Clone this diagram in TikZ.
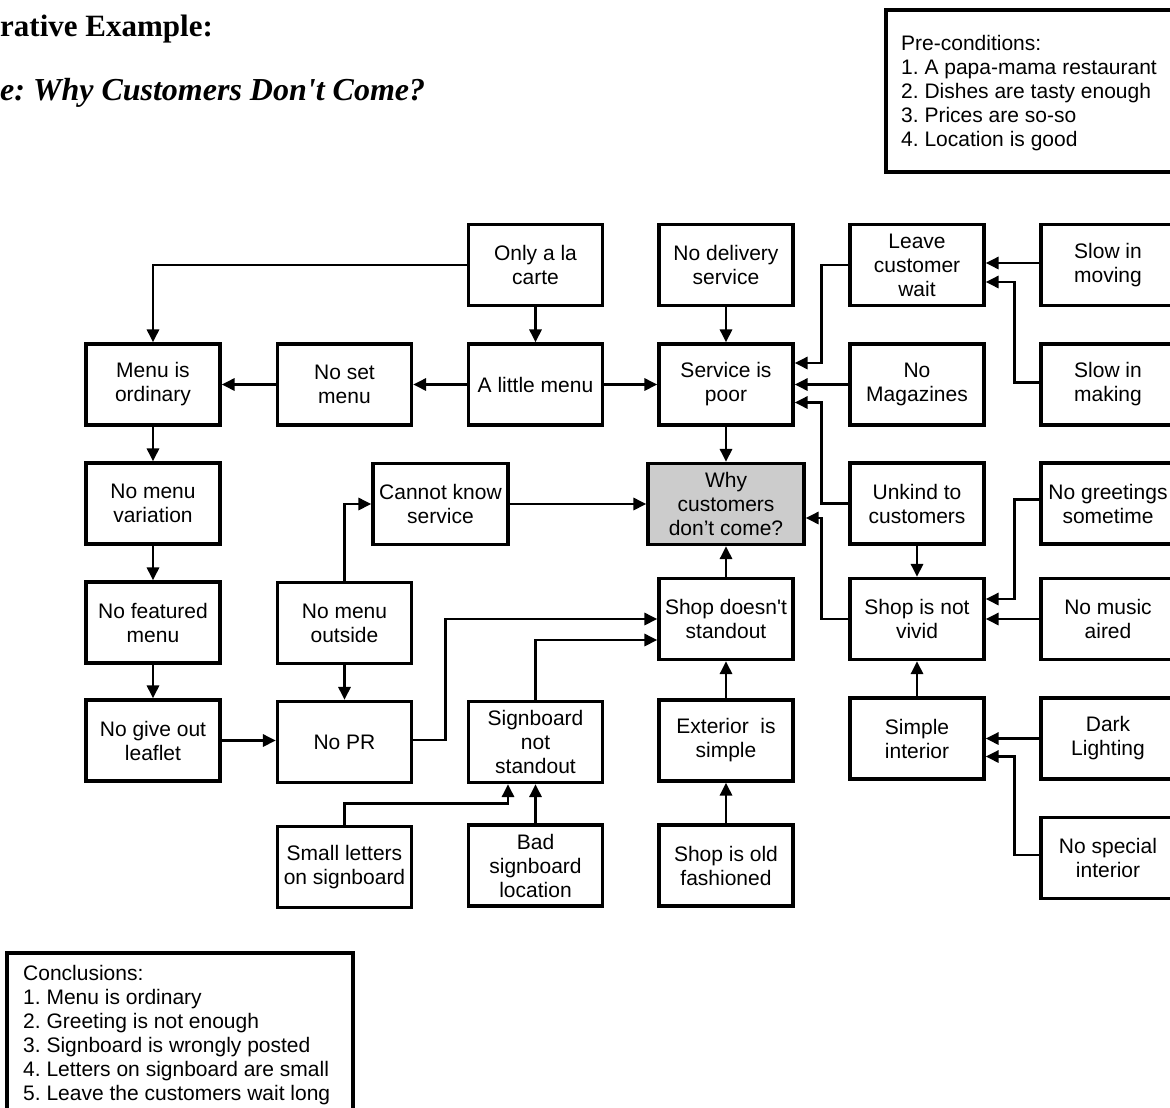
\documentclass[tikz,border=0pt]{standalone}
\usepackage{fontspec}
\setmainfont{Liberation Sans}
\newfontfamily\titlefont{Liberation Serif}
\usetikzlibrary{arrows.meta}
\frenchspacing
\begin{document}
\begin{tikzpicture}[x=1pt,y=-1pt,
  box/.style={draw, line width=3.2pt, minimum width=134pt, minimum height=81pt,
    align=center, inner sep=1pt, font=\fontsize{21}{24}\selectfont},
  arr/.style={line width=2.9pt, -{Triangle[length=13pt,width=12pt]}},
  listtext/.style={anchor=north west, align=left, inner sep=0pt, font=\fontsize{21}{24}\selectfont},
  titletext/.style={anchor=base west, inner sep=0pt, font=\titlefont\bfseries\fontsize{31}{36}\selectfont}]
\useasboundingbox (0,0) rectangle (1170,1108);

% titles
\node[titletext] (t1) at (0,37) {rative Example:};
\node[titletext, font=\titlefont\bfseries\itshape\fontsize{32}{36}\selectfont] (t2) at (0,100) {e: Why Customers Don\textquotesingle t Come?};

% info boxes
\draw[line width=3.2pt] (886,10) rectangle (1180,172);
\node[listtext] (pre) at (901,35) {Pre-conditions:\\1. A papa-mama restaurant\\2. Dishes are tasty enough\\3. Prices are so-so\\4. Location is good};
\draw[line width=3.2pt] (7,953) rectangle (353,1120);
\node[listtext] (con) at (23,965) {Conclusions:\\1. Menu is ordinary\\2. Greeting is not enough\\3. Signboard is wrongly posted\\4. Letters on signboard are small\\5. Leave the customers wait long};

% nodes
\node[box] (menu) at (153,384.5) {Menu is\\ordinary};
\node[box] (noset) at (344.5,384.5) {No set\\menu};
\node[box] (little) at (535.5,384.5) {A little menu};
\node[box] (only) at (535.5,265) {Only a la\\carte};
\node[box] (nodeliv) at (726,265) {No delivery\\service};
\node[box] (service) at (726,384.5) {Service is\\poor};
\node[box] (leave) at (917,265) {Leave\\customer\\wait};
\node[box] (slowmove) at (1108,265) {Slow in\\moving};
\node[box] (nomag) at (917,384.5) {No\\Magazines};
\node[box] (slowmake) at (1108,384.5) {Slow in\\making};
\node[box] (novar) at (153,503.5) {No menu\\variation};
\node[box, minimum width=135pt] (cannot) at (440.5,504) {Cannot know\\service};
\node[box, minimum width=156pt, fill=gray!40] (why) at (726,504) {Why\\customers\\don’t come?};
\node[box] (unkind) at (917,503.5) {Unkind to\\customers};
\node[box] (nogreet) at (1108,503.5) {No greetings\\sometime};
\node[box] (feat) at (153,622.5) {No featured\\menu};
\node[box] (outside) at (344.5,623) {No menu\\outside};
\node[box] (standout) at (726,619) {Shop doesn\textquotesingle t\\standout};
\node[box] (vivid) at (917,619) {Shop is not\\vivid};
\node[box] (music) at (1108,619) {No music\\aired};
\node[box] (leaflet) at (153,740.5) {No give out\\leaflet};
\node[box] (pr) at (344.5,742) {No PR};
\node[box] (signb) at (535.5,742) {Signboard\\not\\standout};
\node[box] (exterior) at (726,740.5) {Exterior\ \ is\\simple};
\node[box] (interior) at (917,738.5) {Simple\\interior};
\node[box] (dark) at (1108,738.5) {Dark\\Lighting};
\node[box] (small) at (344.5,867) {Small letters\\on signboard};
\node[box] (bad) at (535.5,865.5) {Bad\\signboard\\location};
\node[box] (old) at (726,865.5) {Shop is old\\fashioned};
\node[box] (special) at (1108,858) {No special\\interior};

% connectors
\draw[arr] (only.west) -| (menu.north);
\draw[arr] (only) -- (little);
\draw[arr] (little) -- (noset);
\draw[arr] (noset) -- (menu);
\draw[arr] (little) -- (service);
\draw[arr] (nodeliv) -- (service);
\draw[arr] (leave.west) -- ++(-27,0) |- ([yshift=21.5pt]service.east);
\draw[arr] (nomag) -- (service);
\draw[arr] (unkind.west) -- ++(-27,0) |- ([yshift=-18pt]service.east);
\draw[arr] (service) -- (why);
\draw[arr] (cannot.east) -- (cannot.east -| why.west);
\draw[arr] (standout) -- (why);
\draw[arr] (vivid.west) -- ++(-27,0) |- ([yshift=-14pt]why.east);
\draw[arr] (unkind) -- (vivid);
\draw[arr] ([yshift=4pt]nogreet.west) -- ++(-25,0) |- ([yshift=20pt]vivid.east);
\draw[arr] (music) -- (vivid);
\draw[arr] (interior) -- (vivid);
\draw[arr] (dark) -- (interior);
\draw[arr] ([yshift=3pt]special.west) -- ++(-25,0) |- ([yshift=-18pt]interior.east);
\draw[arr] ([yshift=2pt]slowmove.west) -- ([yshift=2pt]slowmove.west -| leave.east);
\draw[arr] ([yshift=2pt]slowmake.west) -- ++(-25,0) |- ([yshift=-17pt]leave.east);
\draw[arr] (menu) -- (novar);
\draw[arr] (novar) -- (feat);
\draw[arr] (feat) -- (leaflet);
\draw[arr] (leaflet.east) -- (leaflet.east -| pr.west);
\draw[arr] (outside) -- (pr);
\draw[arr] (outside.north) |- (cannot.west);
\draw[arr] ([yshift=2pt]pr.east) -- ++(32,0) |- (standout.west);
\draw[arr] (signb.north) |- ([yshift=-21pt]standout.west);
\draw[arr] (small.north) -- ++(0,-21) -| ([xshift=-27.5pt]signb.south);
\draw[arr] (bad) -- (signb);
\draw[arr] (exterior) -- (standout);
\draw[arr] (old) -- (exterior);
\end{tikzpicture}
\end{document}
